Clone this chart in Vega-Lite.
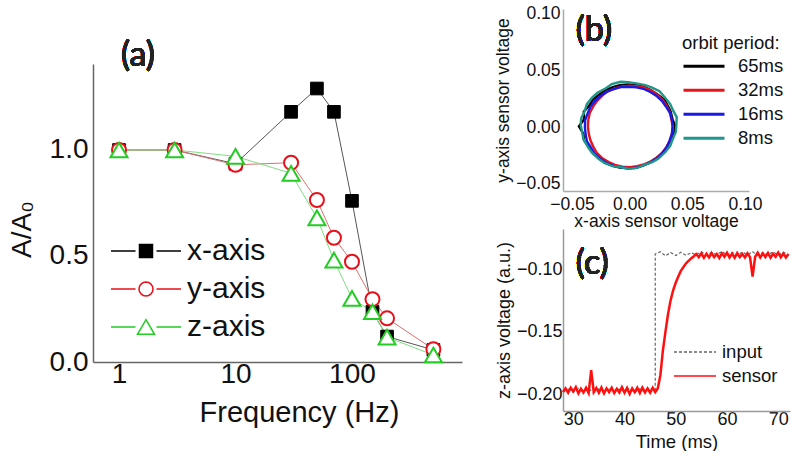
{
  "$schema": "https://vega.github.io/schema/vega-lite/v6.json",
  "padding": {"left": 8, "top": 4, "right": 0, "bottom": 0},
  "background": "white",
  "config": {
    "font": "Liberation Sans",
    "view": {"stroke": null},
    "axis": {"grid": false, "ticks": false, "tickSize": 0, "domainColor": "#777777", "domainWidth": 1.5, "labelColor": "#111111", "titleColor": "#111111", "titleFontWeight": "normal", "labelFont": "Liberation Sans", "titleFont": "Liberation Sans"},
    "legend": {"labelFont": "Liberation Sans", "titleFont": "Liberation Sans", "labelColor": "#111111", "titleColor": "#111111", "padding": 0}
  },
  "datasets": {
    "freq": [
      {"s": "x-axis", "f": 1, "a": 1.0}, {"s": "x-axis", "f": 3, "a": 1.0}, {"s": "x-axis", "f": 10, "a": 0.935}, {"s": "x-axis", "f": 30, "a": 1.18}, {"s": "x-axis", "f": 50, "a": 1.29}, {"s": "x-axis", "f": 70, "a": 1.18}, {"s": "x-axis", "f": 100, "a": 0.76}, {"s": "x-axis", "f": 150, "a": 0.237}, {"s": "x-axis", "f": 200, "a": 0.12}, {"s": "x-axis", "f": 500, "a": 0.057},
      {"s": "y-axis", "f": 1, "a": 1.0}, {"s": "y-axis", "f": 3, "a": 1.0}, {"s": "y-axis", "f": 10, "a": 0.93}, {"s": "y-axis", "f": 30, "a": 0.94}, {"s": "y-axis", "f": 50, "a": 0.764}, {"s": "y-axis", "f": 70, "a": 0.586}, {"s": "y-axis", "f": 100, "a": 0.473}, {"s": "y-axis", "f": 150, "a": 0.296}, {"s": "y-axis", "f": 200, "a": 0.206}, {"s": "y-axis", "f": 500, "a": 0.06},
      {"s": "z-axis", "f": 1, "a": 1.0}, {"s": "z-axis", "f": 3, "a": 1.0}, {"s": "z-axis", "f": 10, "a": 0.97}, {"s": "z-axis", "f": 30, "a": 0.89}, {"s": "z-axis", "f": 50, "a": 0.68}, {"s": "z-axis", "f": 70, "a": 0.48}, {"s": "z-axis", "f": 100, "a": 0.30}, {"s": "z-axis", "f": 150, "a": 0.237}, {"s": "z-axis", "f": 200, "a": 0.117}, {"s": "z-axis", "f": 500, "a": 0.033}
    ],
    "orbit": [
      {"s": "65ms", "i": 0, "x": 0.0395, "y": 0.001}, {"s": "65ms", "i": 1, "x": 0.0372, "y": 0.007}, {"s": "65ms", "i": 2, "x": 0.0355, "y": 0.014}, {"s": "65ms", "i": 3, "x": 0.0326, "y": 0.0198}, {"s": "65ms", "i": 4, "x": 0.03, "y": 0.0245}, {"s": "65ms", "i": 5, "x": 0.0233, "y": 0.0296}, {"s": "65ms", "i": 6, "x": 0.0182, "y": 0.0328}, {"s": "65ms", "i": 7, "x": 0.0116, "y": 0.036}, {"s": "65ms", "i": 8, "x": 0.0055, "y": 0.0371}, {"s": "65ms", "i": 9, "x": -0.0013, "y": 0.0378}, {"s": "65ms", "i": 10, "x": -0.0085, "y": 0.0372}, {"s": "65ms", "i": 11, "x": -0.0146, "y": 0.0355}, {"s": "65ms", "i": 12, "x": -0.0212, "y": 0.0327}, {"s": "65ms", "i": 13, "x": -0.0263, "y": 0.029}, {"s": "65ms", "i": 14, "x": -0.0318, "y": 0.0246}, {"s": "65ms", "i": 15, "x": -0.035, "y": 0.0192}, {"s": "65ms", "i": 16, "x": -0.0398, "y": 0.0138}, {"s": "65ms", "i": 17, "x": -0.0395, "y": 0.0071}, {"s": "65ms", "i": 18, "x": -0.044, "y": 0.0008}, {"s": "65ms", "i": 19, "x": -0.0402, "y": -0.0056}, {"s": "65ms", "i": 20, "x": -0.0395, "y": -0.0115}, {"s": "65ms", "i": 21, "x": -0.035, "y": -0.0177}, {"s": "65ms", "i": 22, "x": -0.0316, "y": -0.023}, {"s": "65ms", "i": 23, "x": -0.0264, "y": -0.0275}, {"s": "65ms", "i": 24, "x": -0.0212, "y": -0.0312}, {"s": "65ms", "i": 25, "x": -0.0146, "y": -0.034}, {"s": "65ms", "i": 26, "x": -0.0085, "y": -0.0356}, {"s": "65ms", "i": 27, "x": -0.0013, "y": -0.0362}, {"s": "65ms", "i": 28, "x": 0.0055, "y": -0.0352}, {"s": "65ms", "i": 29, "x": 0.0116, "y": -0.0336}, {"s": "65ms", "i": 30, "x": 0.0183, "y": -0.0308}, {"s": "65ms", "i": 31, "x": 0.0234, "y": -0.0271}, {"s": "65ms", "i": 32, "x": 0.0287, "y": -0.0226}, {"s": "65ms", "i": 33, "x": 0.0321, "y": -0.0172}, {"s": "65ms", "i": 34, "x": 0.0356, "y": -0.0114}, {"s": "65ms", "i": 35, "x": 0.0385, "y": -0.0052}, {"s": "65ms", "i": 36, "x": 0.0395, "y": 0.001},
      {"s": "32ms", "i": 0, "x": 0.0375, "y": 0.0005}, {"s": "32ms", "i": 1, "x": 0.036, "y": 0.0078}, {"s": "32ms", "i": 2, "x": 0.0352, "y": 0.0128}, {"s": "32ms", "i": 3, "x": 0.0318, "y": 0.0195}, {"s": "32ms", "i": 4, "x": 0.0288, "y": 0.024}, {"s": "32ms", "i": 5, "x": 0.0235, "y": 0.029}, {"s": "32ms", "i": 6, "x": 0.0188, "y": 0.0325}, {"s": "32ms", "i": 7, "x": 0.0124, "y": 0.0352}, {"s": "32ms", "i": 8, "x": 0.0066, "y": 0.0362}, {"s": "32ms", "i": 9, "x": 0.0002, "y": 0.0368}, {"s": "32ms", "i": 10, "x": -0.0066, "y": 0.036}, {"s": "32ms", "i": 11, "x": -0.0125, "y": 0.0345}, {"s": "32ms", "i": 12, "x": -0.0188, "y": 0.0318}, {"s": "32ms", "i": 13, "x": -0.0236, "y": 0.0282}, {"s": "32ms", "i": 14, "x": -0.028, "y": 0.0236}, {"s": "32ms", "i": 15, "x": -0.0316, "y": 0.0185}, {"s": "32ms", "i": 16, "x": -0.0345, "y": 0.0128}, {"s": "32ms", "i": 17, "x": -0.0358, "y": 0.007}, {"s": "32ms", "i": 18, "x": -0.0362, "y": 0.0008}, {"s": "32ms", "i": 19, "x": -0.0355, "y": -0.0055}, {"s": "32ms", "i": 20, "x": -0.034, "y": -0.0115}, {"s": "32ms", "i": 21, "x": -0.0315, "y": -0.0172}, {"s": "32ms", "i": 22, "x": -0.0285, "y": -0.0225}, {"s": "32ms", "i": 23, "x": -0.024, "y": -0.027}, {"s": "32ms", "i": 24, "x": -0.0182, "y": -0.0306}, {"s": "32ms", "i": 25, "x": -0.0128, "y": -0.0332}, {"s": "32ms", "i": 26, "x": -0.0062, "y": -0.0348}, {"s": "32ms", "i": 27, "x": 0.0002, "y": -0.0352}, {"s": "32ms", "i": 28, "x": 0.0065, "y": -0.0342}, {"s": "32ms", "i": 29, "x": 0.013, "y": -0.0325}, {"s": "32ms", "i": 30, "x": 0.0188, "y": -0.0298}, {"s": "32ms", "i": 31, "x": 0.0242, "y": -0.0262}, {"s": "32ms", "i": 32, "x": 0.0288, "y": -0.0218}, {"s": "32ms", "i": 33, "x": 0.0325, "y": -0.0166}, {"s": "32ms", "i": 34, "x": 0.0352, "y": -0.011}, {"s": "32ms", "i": 35, "x": 0.0368, "y": -0.005}, {"s": "32ms", "i": 36, "x": 0.0375, "y": 0.0005},
      {"s": "16ms", "i": 0, "x": 0.0372, "y": 0.0004}, {"s": "16ms", "i": 1, "x": 0.0368, "y": 0.006}, {"s": "16ms", "i": 2, "x": 0.035, "y": 0.0126}, {"s": "16ms", "i": 3, "x": 0.0316, "y": 0.0182}, {"s": "16ms", "i": 4, "x": 0.0284, "y": 0.0228}, {"s": "16ms", "i": 5, "x": 0.023, "y": 0.0279}, {"s": "16ms", "i": 6, "x": 0.0183, "y": 0.031}, {"s": "16ms", "i": 7, "x": 0.0118, "y": 0.034}, {"s": "16ms", "i": 8, "x": 0.0058, "y": 0.0352}, {"s": "16ms", "i": 9, "x": -0.0012, "y": 0.0358}, {"s": "16ms", "i": 10, "x": -0.0074, "y": 0.0356}, {"s": "16ms", "i": 11, "x": -0.0142, "y": 0.0336}, {"s": "16ms", "i": 12, "x": -0.0198, "y": 0.0314}, {"s": "16ms", "i": 13, "x": -0.0256, "y": 0.0274}, {"s": "16ms", "i": 14, "x": -0.03, "y": 0.0234}, {"s": "16ms", "i": 15, "x": -0.0342, "y": 0.0178}, {"s": "16ms", "i": 16, "x": -0.0365, "y": 0.012}, {"s": "16ms", "i": 17, "x": -0.0386, "y": 0.0065}, {"s": "16ms", "i": 18, "x": -0.0388, "y": -0.0002}, {"s": "16ms", "i": 19, "x": -0.0382, "y": -0.006}, {"s": "16ms", "i": 20, "x": -0.037, "y": -0.0125}, {"s": "16ms", "i": 21, "x": -0.0336, "y": -0.0178}, {"s": "16ms", "i": 22, "x": -0.0304, "y": -0.0233}, {"s": "16ms", "i": 23, "x": -0.0252, "y": -0.0278}, {"s": "16ms", "i": 24, "x": -0.0203, "y": -0.0314}, {"s": "16ms", "i": 25, "x": -0.0138, "y": -0.034}, {"s": "16ms", "i": 26, "x": -0.0078, "y": -0.0353}, {"s": "16ms", "i": 27, "x": -0.0008, "y": -0.0362}, {"s": "16ms", "i": 28, "x": 0.0058, "y": -0.0357}, {"s": "16ms", "i": 29, "x": 0.0122, "y": -0.0336}, {"s": "16ms", "i": 30, "x": 0.0178, "y": -0.031}, {"s": "16ms", "i": 31, "x": 0.0237, "y": -0.0274}, {"s": "16ms", "i": 32, "x": 0.0279, "y": -0.0229}, {"s": "16ms", "i": 33, "x": 0.0322, "y": -0.0178}, {"s": "16ms", "i": 34, "x": 0.0345, "y": -0.0121}, {"s": "16ms", "i": 35, "x": 0.0366, "y": -0.0061}, {"s": "16ms", "i": 36, "x": 0.0372, "y": 0.0004},
      {"s": "8ms", "i": 0, "x": 0.0405, "y": 0.0015}, {"s": "8ms", "i": 1, "x": 0.0408, "y": 0.009}, {"s": "8ms", "i": 2, "x": 0.0372, "y": 0.0158}, {"s": "8ms", "i": 3, "x": 0.0352, "y": 0.0205}, {"s": "8ms", "i": 4, "x": 0.0298, "y": 0.0272}, {"s": "8ms", "i": 5, "x": 0.0259, "y": 0.0318}, {"s": "8ms", "i": 6, "x": 0.019, "y": 0.0352}, {"s": "8ms", "i": 7, "x": 0.0135, "y": 0.0372}, {"s": "8ms", "i": 8, "x": 0.0058, "y": 0.0388}, {"s": "8ms", "i": 9, "x": -0.0012, "y": 0.0398}, {"s": "8ms", "i": 10, "x": -0.0078, "y": 0.0402}, {"s": "8ms", "i": 11, "x": -0.0155, "y": 0.0381}, {"s": "8ms", "i": 12, "x": -0.021, "y": 0.0342}, {"s": "8ms", "i": 13, "x": -0.028, "y": 0.0306}, {"s": "8ms", "i": 14, "x": -0.033, "y": 0.0258}, {"s": "8ms", "i": 15, "x": -0.0372, "y": 0.0203}, {"s": "8ms", "i": 16, "x": -0.039, "y": 0.0142}, {"s": "8ms", "i": 17, "x": -0.042, "y": 0.008}, {"s": "8ms", "i": 18, "x": -0.0425, "y": 0.0025}, {"s": "8ms", "i": 19, "x": -0.041, "y": -0.0052}, {"s": "8ms", "i": 20, "x": -0.04, "y": -0.0105}, {"s": "8ms", "i": 21, "x": -0.036, "y": -0.0176}, {"s": "8ms", "i": 22, "x": -0.033, "y": -0.022}, {"s": "8ms", "i": 23, "x": -0.027, "y": -0.0278}, {"s": "8ms", "i": 24, "x": -0.022, "y": -0.0314}, {"s": "8ms", "i": 25, "x": -0.0148, "y": -0.0342}, {"s": "8ms", "i": 26, "x": -0.0085, "y": -0.035}, {"s": "8ms", "i": 27, "x": -0.0008, "y": -0.0365}, {"s": "8ms", "i": 28, "x": 0.0065, "y": -0.0358}, {"s": "8ms", "i": 29, "x": 0.0126, "y": -0.0332}, {"s": "8ms", "i": 30, "x": 0.02, "y": -0.0305}, {"s": "8ms", "i": 31, "x": 0.025, "y": -0.0276}, {"s": "8ms", "i": 32, "x": 0.031, "y": -0.0218}, {"s": "8ms", "i": 33, "x": 0.0352, "y": -0.0165}, {"s": "8ms", "i": 34, "x": 0.037, "y": -0.0115}, {"s": "8ms", "i": 35, "x": 0.04, "y": -0.004}, {"s": "8ms", "i": 36, "x": 0.0405, "y": 0.0015}
    ],
    "step": [
      {"s": "input", "i": 0, "t": 28, "v": -0.1975}, {"s": "input", "i": 1, "t": 29, "v": -0.1962}, {"s": "input", "i": 2, "t": 30, "v": -0.1986}, {"s": "input", "i": 3, "t": 31, "v": -0.1955}, {"s": "input", "i": 4, "t": 32, "v": -0.1981}, {"s": "input", "i": 5, "t": 33, "v": -0.1958}, {"s": "input", "i": 6, "t": 34, "v": -0.1989}, {"s": "input", "i": 7, "t": 35, "v": -0.196}, {"s": "input", "i": 8, "t": 36, "v": -0.1978}, {"s": "input", "i": 9, "t": 37, "v": -0.195}, {"s": "input", "i": 10, "t": 38, "v": -0.1985}, {"s": "input", "i": 11, "t": 39, "v": -0.1962}, {"s": "input", "i": 12, "t": 40, "v": -0.198}, {"s": "input", "i": 13, "t": 41, "v": -0.1952}, {"s": "input", "i": 14, "t": 42, "v": -0.199}, {"s": "input", "i": 15, "t": 43, "v": -0.1958}, {"s": "input", "i": 16, "t": 44, "v": -0.1982}, {"s": "input", "i": 17, "t": 45, "v": -0.1955}, {"s": "input", "i": 18, "t": 46, "v": -0.1975}, {"s": "input", "i": 19, "t": 46, "v": -0.088}, {"s": "input", "i": 20, "t": 47, "v": -0.0862}, {"s": "input", "i": 21, "t": 48, "v": -0.0895}, {"s": "input", "i": 22, "t": 49, "v": -0.0868}, {"s": "input", "i": 23, "t": 50, "v": -0.0893}, {"s": "input", "i": 24, "t": 51, "v": -0.0866}, {"s": "input", "i": 25, "t": 52, "v": -0.0891}, {"s": "input", "i": 26, "t": 53, "v": -0.087}, {"s": "input", "i": 27, "t": 54, "v": -0.0886}, {"s": "input", "i": 28, "t": 55, "v": -0.0862}, {"s": "input", "i": 29, "t": 56, "v": -0.089}, {"s": "input", "i": 30, "t": 57, "v": -0.0868}, {"s": "input", "i": 31, "t": 58, "v": -0.0885}, {"s": "input", "i": 32, "t": 59, "v": -0.086}, {"s": "input", "i": 33, "t": 60, "v": -0.0888}, {"s": "input", "i": 34, "t": 61, "v": -0.0866}, {"s": "input", "i": 35, "t": 62, "v": -0.0892}, {"s": "input", "i": 36, "t": 63, "v": -0.0864}, {"s": "input", "i": 37, "t": 64, "v": -0.0887}, {"s": "input", "i": 38, "t": 65, "v": -0.0862}, {"s": "input", "i": 39, "t": 66, "v": -0.089}, {"s": "input", "i": 40, "t": 67, "v": -0.0868}, {"s": "input", "i": 41, "t": 68, "v": -0.0886}, {"s": "input", "i": 42, "t": 69, "v": -0.0863}, {"s": "input", "i": 43, "t": 70, "v": -0.0889}, {"s": "input", "i": 44, "t": 71, "v": -0.0866}, {"s": "input", "i": 45, "t": 72, "v": -0.0884},
      {"s": "sensor", "i": 0, "t": 28, "v": -0.1985}, {"s": "sensor", "i": 1, "t": 28.5, "v": -0.1955}, {"s": "sensor", "i": 2, "t": 29, "v": -0.199}, {"s": "sensor", "i": 3, "t": 29.5, "v": -0.195}, {"s": "sensor", "i": 4, "t": 30, "v": -0.198}, {"s": "sensor", "i": 5, "t": 30.5, "v": -0.1945}, {"s": "sensor", "i": 6, "t": 31, "v": -0.1995}, {"s": "sensor", "i": 7, "t": 31.5, "v": -0.1958}, {"s": "sensor", "i": 8, "t": 32, "v": -0.1988}, {"s": "sensor", "i": 9, "t": 32.5, "v": -0.195}, {"s": "sensor", "i": 10, "t": 33, "v": -0.1992}, {"s": "sensor", "i": 11, "t": 33.5, "v": -0.181}, {"s": "sensor", "i": 12, "t": 34, "v": -0.1985}, {"s": "sensor", "i": 13, "t": 34.5, "v": -0.1952}, {"s": "sensor", "i": 14, "t": 35, "v": -0.199}, {"s": "sensor", "i": 15, "t": 35.5, "v": -0.1948}, {"s": "sensor", "i": 16, "t": 36, "v": -0.1995}, {"s": "sensor", "i": 17, "t": 36.5, "v": -0.1955}, {"s": "sensor", "i": 18, "t": 37, "v": -0.1985}, {"s": "sensor", "i": 19, "t": 37.5, "v": -0.195}, {"s": "sensor", "i": 20, "t": 38, "v": -0.1992}, {"s": "sensor", "i": 21, "t": 38.5, "v": -0.1958}, {"s": "sensor", "i": 22, "t": 39, "v": -0.1988}, {"s": "sensor", "i": 23, "t": 39.5, "v": -0.1945}, {"s": "sensor", "i": 24, "t": 40, "v": -0.199}, {"s": "sensor", "i": 25, "t": 40.5, "v": -0.1952}, {"s": "sensor", "i": 26, "t": 41, "v": -0.2}, {"s": "sensor", "i": 27, "t": 41.5, "v": -0.1955}, {"s": "sensor", "i": 28, "t": 42, "v": -0.1985}, {"s": "sensor", "i": 29, "t": 42.5, "v": -0.195}, {"s": "sensor", "i": 30, "t": 43, "v": -0.1992}, {"s": "sensor", "i": 31, "t": 43.5, "v": -0.1948}, {"s": "sensor", "i": 32, "t": 44, "v": -0.1988}, {"s": "sensor", "i": 33, "t": 44.5, "v": -0.1955}, {"s": "sensor", "i": 34, "t": 45, "v": -0.199}, {"s": "sensor", "i": 35, "t": 45.5, "v": -0.195}, {"s": "sensor", "i": 36, "t": 46, "v": -0.1985}, {"s": "sensor", "i": 37, "t": 46.5, "v": -0.1955}, {"s": "sensor", "i": 38, "t": 47, "v": -0.185}, {"s": "sensor", "i": 39, "t": 47.5, "v": -0.165}, {"s": "sensor", "i": 40, "t": 48, "v": -0.15}, {"s": "sensor", "i": 41, "t": 48.5, "v": -0.136}, {"s": "sensor", "i": 42, "t": 49, "v": -0.125}, {"s": "sensor", "i": 43, "t": 49.5, "v": -0.117}, {"s": "sensor", "i": 44, "t": 50, "v": -0.111}, {"s": "sensor", "i": 45, "t": 50.5, "v": -0.106}, {"s": "sensor", "i": 46, "t": 51, "v": -0.1015}, {"s": "sensor", "i": 47, "t": 51.5, "v": -0.0985}, {"s": "sensor", "i": 48, "t": 52, "v": -0.0955}, {"s": "sensor", "i": 49, "t": 52.5, "v": -0.0935}, {"s": "sensor", "i": 50, "t": 53, "v": -0.0915}, {"s": "sensor", "i": 51, "t": 53.5, "v": -0.09}, {"s": "sensor", "i": 52, "t": 54, "v": -0.088}, {"s": "sensor", "i": 53, "t": 54.5, "v": -0.0905}, {"s": "sensor", "i": 54, "t": 55, "v": -0.0875}, {"s": "sensor", "i": 55, "t": 55.5, "v": -0.091}, {"s": "sensor", "i": 56, "t": 56, "v": -0.0878}, {"s": "sensor", "i": 57, "t": 56.5, "v": -0.0908}, {"s": "sensor", "i": 58, "t": 57, "v": -0.0872}, {"s": "sensor", "i": 59, "t": 57.5, "v": -0.0905}, {"s": "sensor", "i": 60, "t": 58, "v": -0.088}, {"s": "sensor", "i": 61, "t": 58.5, "v": -0.0912}, {"s": "sensor", "i": 62, "t": 59, "v": -0.0875}, {"s": "sensor", "i": 63, "t": 59.5, "v": -0.0902}, {"s": "sensor", "i": 64, "t": 60, "v": -0.087}, {"s": "sensor", "i": 65, "t": 60.5, "v": -0.0908}, {"s": "sensor", "i": 66, "t": 61, "v": -0.0878}, {"s": "sensor", "i": 67, "t": 61.5, "v": -0.091}, {"s": "sensor", "i": 68, "t": 62, "v": -0.0872}, {"s": "sensor", "i": 69, "t": 62.5, "v": -0.0905}, {"s": "sensor", "i": 70, "t": 63, "v": -0.088}, {"s": "sensor", "i": 71, "t": 63.5, "v": -0.0908}, {"s": "sensor", "i": 72, "t": 64, "v": -0.0874}, {"s": "sensor", "i": 73, "t": 64.5, "v": -0.0906}, {"s": "sensor", "i": 74, "t": 65, "v": -0.106}, {"s": "sensor", "i": 75, "t": 65.5, "v": -0.0902}, {"s": "sensor", "i": 76, "t": 66, "v": -0.087}, {"s": "sensor", "i": 77, "t": 66.5, "v": -0.0908}, {"s": "sensor", "i": 78, "t": 67, "v": -0.0876}, {"s": "sensor", "i": 79, "t": 67.5, "v": -0.0904}, {"s": "sensor", "i": 80, "t": 68, "v": -0.0872}, {"s": "sensor", "i": 81, "t": 68.5, "v": -0.091}, {"s": "sensor", "i": 82, "t": 69, "v": -0.0878}, {"s": "sensor", "i": 83, "t": 69.5, "v": -0.0903}, {"s": "sensor", "i": 84, "t": 70, "v": -0.0868}, {"s": "sensor", "i": 85, "t": 70.5, "v": -0.0906}, {"s": "sensor", "i": 86, "t": 71, "v": -0.0876}, {"s": "sensor", "i": 87, "t": 71.5, "v": -0.0908}, {"s": "sensor", "i": 88, "t": 72, "v": -0.088}
    ]
  },
  "hconcat": [
    {
      "width": 369,
      "height": 353,
      "data": {"name": "freq"},
      "encoding": {
        "x": {"field": "f", "type": "quantitative", "scale": {"type": "log", "domain": [0.598, 880], "nice": false}, "axis": {"values": [1, 10, 100], "format": "d", "labelFontSize": 28, "labelPadding": -2, "title": "Frequency (Hz)", "titleFontSize": 29, "titlePadding": 10, "titleX": 206, "domainColor": "#666666"}},
        "y": {"field": "a", "type": "quantitative", "scale": {"domain": [0, 1.665], "nice": false}, "axis": {"values": [0, 0.5, 1], "format": ".1f", "labelFontSize": 28, "labelPadding": 5, "title": "A/A₀", "titleFontSize": 28, "titlePadding": 13, "titleY": 220, "domainColor": "#666666", "domainDash": [298, 2000]}}
      },
      "layer": [
        {
          "mark": {"type": "line", "strokeWidth": 1},
          "encoding": {
            "stroke": {"field": "s", "type": "nominal", "scale": {"domain": ["z-axis", "y-axis", "x-axis"], "range": ["#80dd80", "#e07070", "#555555"]}, "legend": null}
          }
        },
        {
          "transform": [{"filter": "datum.s === 'legend-only'"}],
          "mark": {"type": "point", "filled": false, "fill": "#ffffff", "strokeWidth": 1.5, "opacity": 1},
          "encoding": {
            "color": {"field": "s", "type": "nominal", "scale": {"domain": ["x-axis", "y-axis", "z-axis"], "range": ["#000000", "#e8101a", "#22cc22"]}, "legend": {"orient": "none", "legendX": 17, "legendY": 223, "title": null, "labelFontSize": 30, "labelOffset": 5, "rowPadding": 0, "clipHeight": 38, "symbolSize": 4900, "symbolStrokeWidth": 1.5, "symbolFillColor": "#ffffff"}},
            "shape": {"field": "s", "type": "nominal", "scale": {"domain": ["x-axis", "y-axis", "z-axis"], "range": ["M-1,0H-0.3M0.3,0H1M-0.186,-0.186H0.186V0.186H-0.186ZM-0.152,-0.152H0.152V0.152H-0.152ZM-0.118,-0.118H0.118V0.118H-0.118ZM-0.084,-0.084H0.084V0.084H-0.084ZM-0.05,-0.05H0.05V0.05H-0.05ZM-0.02,-0.02H0.02V0.02H-0.02Z", "M-1,0H-0.3M0.3,0H1M0.2,0L0.185,0.077L0.141,0.141L0.077,0.185L0,0.2L-0.077,0.185L-0.141,0.141L-0.185,0.077L-0.2,0L-0.185,-0.077L-0.141,-0.141L-0.077,-0.185L0,-0.2L0.077,-0.185L0.141,-0.141L0.185,-0.077Z", "M-1,0H-0.3M0.3,0H1M0,-0.21L0.243,0.21L-0.243,0.21Z"]}, "legend": {"orient": "none", "legendX": 17, "legendY": 223, "title": null, "labelFontSize": 30, "labelOffset": 5, "rowPadding": 0, "clipHeight": 38, "symbolSize": 4900, "symbolStrokeWidth": 1.5, "symbolFillColor": "#ffffff"}}
          }
        },
        {
          "transform": [{"filter": "datum.s === 'x-axis'"}],
          "mark": {"type": "point", "shape": "square", "filled": false, "fill": "#000000", "strokeWidth": 1, "size": 160, "opacity": 1},
          "encoding": {"color": {"field": "s", "type": "nominal"}}
        },
        {
          "transform": [{"filter": "datum.s === 'y-axis'"}],
          "mark": {"type": "point", "shape": "circle", "filled": false, "fill": "#ffffff", "size": 196, "strokeWidth": 2, "opacity": 1},
          "encoding": {"color": {"field": "s", "type": "nominal"}}
        },
        {
          "transform": [{"filter": "datum.s === 'z-axis'"}],
          "mark": {"type": "point", "shape": "triangle-up", "filled": false, "fill": "#ffffff", "size": 289, "strokeWidth": 2, "opacity": 1},
          "encoding": {"color": {"field": "s", "type": "nominal"}}
        },
        {
          "mark": {"type": "text", "fontSize": 34, "font": "Lato", "fontWeight": "normal", "color": "#222222"},
          "encoding": {"x": {"datum": 1.456}, "y": {"datum": 1.443}, "text": {"value": "(a)"}}
        }
      ]
    },
    {
      "vconcat": [
        {
          "width": 186,
          "height": 182,
          "data": {"name": "orbit"},
          "layer": [
            {
              "mark": {"type": "line", "strokeWidth": 2.4},
              "encoding": {
                "x": {"field": "x", "type": "quantitative", "scale": {"domain": [-0.0578, 0.1035], "nice": false, "zero": false}, "axis": {"values": [-0.05, 0, 0.05, 0.1], "format": ".2f", "labelFontSize": 17.5, "labelPadding": 4, "title": "x-axis sensor voltage", "titleFontSize": 17.5, "titlePadding": 0, "domainColor": "#aaaaaa"}},
                "y": {"field": "y", "type": "quantitative", "scale": {"domain": [-0.0562, 0.1044], "nice": false, "zero": false}, "axis": {"values": [-0.05, 0, 0.05, 0.1], "format": ".2f", "labelFontSize": 17.5, "labelPadding": 3, "title": "y-axis sensor voltage", "titleFontSize": 17.5, "titlePadding": 3, "domainColor": "#aaaaaa"}},
                "color": {"field": "s", "type": "nominal", "scale": {"domain": ["65ms", "32ms", "16ms", "8ms"], "range": ["#000000", "#e8141c", "#1a1ae6", "#1f968a"]},
                  "legend": {"orient": "none", "legendX": 119, "legendY": 25, "title": "orbit period:", "titleFontSize": 18.5, "titleFontWeight": "normal", "titlePadding": 2, "labelFontSize": 18.5, "labelOffset": 12, "symbolType": "stroke", "symbolSize": 1681, "symbolStrokeWidth": 3, "rowPadding": 0, "clipHeight": 23.3}},
                "order": {"field": "i", "type": "quantitative"}
              }
            },
            {
              "mark": {"type": "text", "fontSize": 34, "font": "Lato", "fontWeight": "normal", "color": "#222222"},
              "encoding": {"x": {"datum": -0.031}, "y": {"datum": 0.085}, "text": {"value": "(b)"}}
            }
          ]
        },
        {
          "width": 227,
          "height": 182,
          "data": {"name": "step"},
          "layer": [
            {
              "transform": [{"filter": "datum.s === 'input'"}],
              "mark": {"type": "line", "strokeWidth": 1.2},
              "encoding": {
                "x": {"field": "t", "type": "quantitative", "scale": {"domain": [28, 72.3], "nice": false, "zero": false}, "axis": {"values": [30, 40, 50, 60, 70], "labelFontSize": 18, "labelPadding": -1, "title": "Time (ms)", "titleFontSize": 18.5, "titlePadding": 4, "domainColor": "#999999"}},
                "y": {"field": "v", "type": "quantitative", "scale": {"domain": [-0.2136, -0.068], "nice": false, "zero": false}, "axis": {"values": [-0.2, -0.15, -0.1], "format": ".2f", "labelFontSize": 18, "labelPadding": 1, "title": "z-axis voltage (a.u.)", "titleFontSize": 18, "titlePadding": 3, "domainColor": "#999999"}},
                "color": {"field": "s", "type": "nominal", "scale": {"domain": ["input", "sensor"], "range": ["#666666", "#ff1010"]},
                  "legend": {"orient": "none", "legendX": 110, "legendY": 111, "title": null, "labelFontSize": 18.5, "labelOffset": 5, "symbolType": "stroke", "symbolSize": 1764, "symbolStrokeWidth": 1.5, "rowPadding": 0, "clipHeight": 24}},
                "strokeDash": {"field": "s", "type": "nominal", "scale": {"domain": ["input", "sensor"], "range": [[3, 2], [1, 0]]}},
                "order": {"field": "i", "type": "quantitative"}
              }
            },
            {
              "transform": [{"filter": "datum.s === 'sensor'"}],
              "mark": {"type": "line", "strokeWidth": 2.5},
              "encoding": {
                "x": {"field": "t", "type": "quantitative"},
                "y": {"field": "v", "type": "quantitative"},
                "color": {"field": "s", "type": "nominal"},
                "strokeDash": {"field": "s", "type": "nominal"},
                "order": {"field": "i", "type": "quantitative"}
              }
            },
            {
              "mark": {"type": "text", "fontSize": 34, "font": "Lato", "fontWeight": "normal", "color": "#222222"},
              "encoding": {"x": {"datum": 33.7}, "y": {"datum": -0.096}, "text": {"value": "(c)"}}
            }
          ]
        }
      ],
      "spacing": 38,
      "bounds": "flush",
      "resolve": {"scale": {"color": "independent", "strokeDash": "independent"}, "legend": {"color": "independent", "strokeDash": "independent"}}
    }
  ],
  "spacing": 101,
  "bounds": "flush",
  "resolve": {"scale": {"color": "independent", "strokeDash": "independent", "stroke": "independent", "shape": "independent"}, "legend": {"color": "independent", "strokeDash": "independent", "stroke": "independent", "shape": "independent"}}
}
